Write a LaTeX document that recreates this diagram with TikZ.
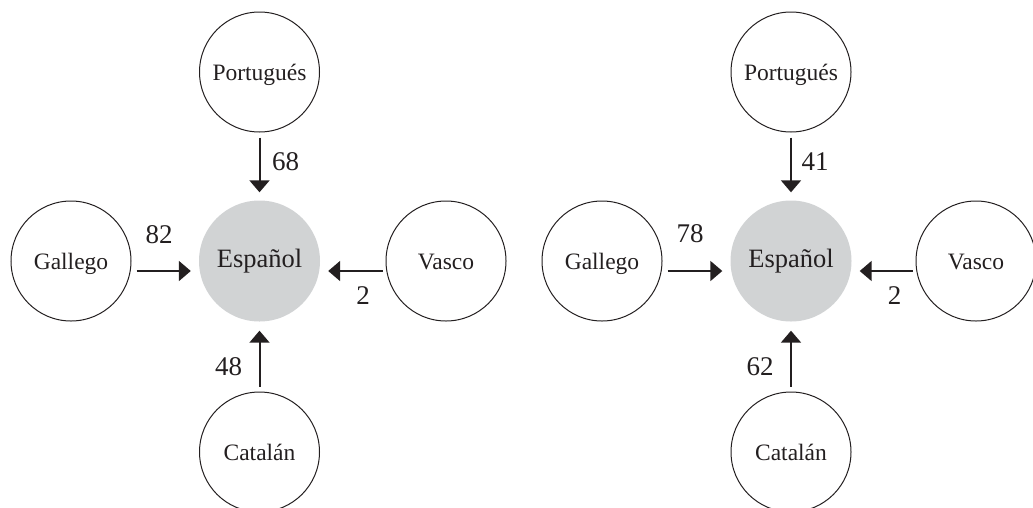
\documentclass[tikz,border=0pt]{standalone}
\usepackage{fontspec}
\setmainfont{Liberation Serif}
\usetikzlibrary{arrows.meta}
\definecolor{espgrey}{RGB}{209,211,212}
\definecolor{ink}{RGB}{35,31,32}
\tikzset{
  lang/.style={circle, draw=ink, line width=1pt, minimum size=120pt, inner sep=0pt,
    text=ink, font=\fontsize{23.5}{24}\selectfont, text height=16pt, text depth=0pt},
  center/.style={circle, fill=espgrey, draw=none, minimum size=121pt, inner sep=0pt,
    text=ink, font=\fontsize{26.5}{27}\selectfont, text height=12pt, text depth=0pt},
  arr/.style={draw=ink, line width=2pt, -{Triangle[length=12pt,width=20pt]}},
  num/.style={text=ink, font=\fontsize{27}{27}\selectfont, inner sep=0pt}
}
\begin{document}
\begin{tikzpicture}[x=1pt,y=-1pt]
\useasboundingbox (0,0) rectangle (1033,507);
% left diagram
\node[center] (espA) at (259.5,261) {Español};
\node[lang] (porA) at (259.5,72) {Portugués};
\node[lang] (galA) at (71,261) {Gallego};
\node[lang] (vasA) at (446,261) {Vasco};
\node[lang] (catA) at (259.5,452) {Catalán};
\draw[arr, shorten <=5pt, shorten >=8pt] (porA) -- (espA);
\draw[arr, shorten <=5pt, shorten >=9pt] (catA) -- (espA);
\draw[arr, shorten <=5pt, shorten >=8pt] ([yshift=-10pt]galA.east) -- ([yshift=-10pt]espA.west);
\draw[arr, shorten <=3pt, shorten >=8pt] ([yshift=-10pt]vasA.west) -- ([yshift=-10pt]espA.east);
\node[num] (nPorA) at (285.5,162) {68};
\node[num] (nGalA) at (159,235) {82};
\node[num] (nVasA) at (363,296) {2};
\node[num] (nCatA) at (228.5,367) {48};
% right diagram
\node[center] (espB) at (791,261) {Español};
\node[lang] (porB) at (791,72) {Portugués};
\node[lang] (galB) at (602,261) {Gallego};
\node[lang] (vasB) at (976,261) {Vasco};
\node[lang] (catB) at (791,452) {Catalán};
\draw[arr, shorten <=5pt, shorten >=8pt] (porB) -- (espB);
\draw[arr, shorten <=5pt, shorten >=9pt] (catB) -- (espB);
\draw[arr, shorten <=5pt, shorten >=8pt] ([yshift=-10pt]galB.east) -- ([yshift=-10pt]espB.west);
\draw[arr, shorten <=3pt, shorten >=8pt] ([yshift=-10pt]vasB.west) -- ([yshift=-10pt]espB.east);
\node[num] (nPorB) at (815,162) {41};
\node[num] (nGalB) at (690,234) {78};
\node[num] (nVasB) at (894.5,296) {2};
\node[num] (nCatB) at (760,367) {62};
\end{tikzpicture}
\end{document}
